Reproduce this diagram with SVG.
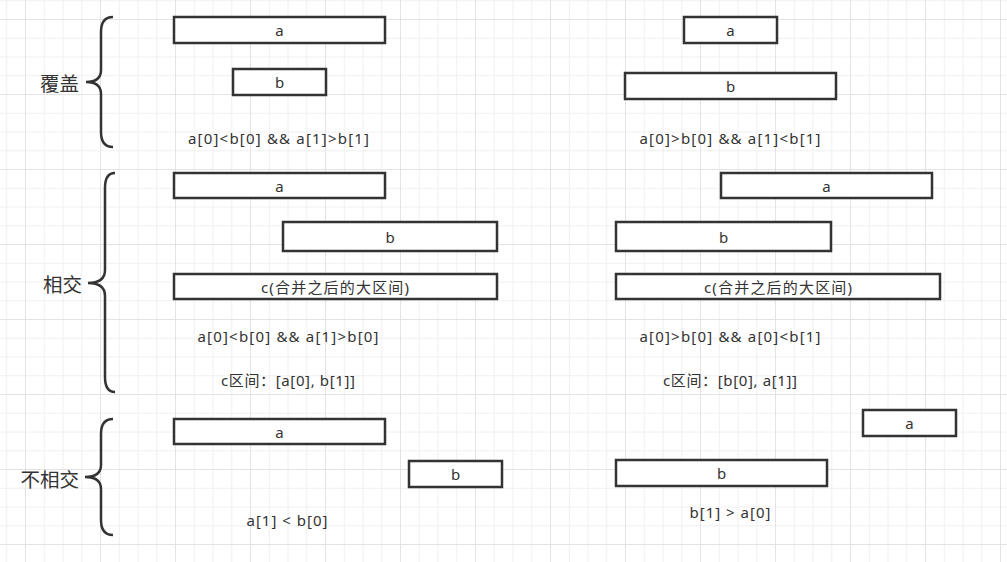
<svg xmlns="http://www.w3.org/2000/svg" width="1007" height="562" viewBox="0 0 1007 562">
<defs>
<pattern id="grid" patternUnits="userSpaceOnUse" x="25" y="19" width="75" height="75">
<path d="M19.25,0V75M38,0V75M56.75,0V75M0,19.25H75M0,38H75M0,56.75H75" stroke="#f0f0f0" stroke-width="1" fill="none"/>
<path d="M0.5,0V75M0,0.5H75" stroke="#e3e3e3" stroke-width="1" fill="none"/>
</pattern>
</defs>
<style>
.box{fill:#ffffff;stroke:#333333;stroke-width:2.5}
.brace{fill:none;stroke:#333333;stroke-width:2.5}
text{font-family:"Noto Sans","Noto Sans CJK SC",sans-serif;fill:#333333;font-size:15px;text-anchor:middle;dominant-baseline:central}
.lbl{font-family:"Noto Sans CJK SC",sans-serif;font-size:19.5px;text-anchor:end}
</style>
<rect width="1007" height="562" fill="#ffffff"/>
<rect width="1007" height="562" fill="url(#grid)"/>

<g id="connectors">
<path class="brace" d="M113,17 Q101,17 101,32 L101,70 Q101,82 86,82 Q101,82 101,94 L101,132 Q101,147 113,147"/>
<path class="brace" d="M115,173 Q105,173 105,188 L105,270 Q105,283 88,283 Q105,283 105,296 L105,377 Q105,392 115,392"/>
<path class="brace" d="M113,419 Q101,419 101,434 L101,465 Q101,477 85,477 Q101,477 101,489 L101,520 Q101,535 113,535"/>
</g>

<g id="label-cover"><text class="lbl" x="79" y="82">覆盖</text></g>
<g id="label-intersect"><text class="lbl" x="82" y="283">相交</text></g>
<g id="label-disjoint"><text class="lbl" x="79" y="478">不相交</text></g>

<g id="r1-left-a"><rect class="box" x="174" y="17" width="211" height="26"/><text x="279.5" y="30">a</text></g>
<g id="r1-left-b"><rect class="box" x="233" y="69" width="93" height="26"/><text x="279.5" y="82">b</text></g>
<g id="r1-left-cond"><text x="278.5" y="138" textLength="181" lengthAdjust="spacing">a[0]&lt;b[0] &amp;&amp; a[1]&gt;b[1]</text></g>

<g id="r1-right-a"><rect class="box" x="684" y="17" width="93" height="26"/><text x="730.5" y="30">a</text></g>
<g id="r1-right-b"><rect class="box" x="625" y="73" width="211" height="26"/><text x="730.5" y="86">b</text></g>
<g id="r1-right-cond"><text x="730" y="138" textLength="181" lengthAdjust="spacing">a[0]&gt;b[0] &amp;&amp; a[1]&lt;b[1]</text></g>

<g id="r2-left-a"><rect class="box" x="174" y="173" width="211" height="25"/><text x="279.5" y="186">a</text></g>
<g id="r2-left-b"><rect class="box" x="283" y="222" width="214" height="29"/><text x="390" y="237">b</text></g>
<g id="r2-left-c"><rect class="box" x="174" y="274" width="323" height="25"/><text x="335" y="287" textLength="148" lengthAdjust="spacing">c(合并之后的大区间)</text></g>
<g id="r2-left-cond"><text x="288" y="336" textLength="181" lengthAdjust="spacing">a[0]&lt;b[0] &amp;&amp; a[1]&gt;b[0]</text></g>
<g id="r2-left-range"><text x="288" y="380" textLength="134" lengthAdjust="spacing">c区间：[a[0], b[1]]</text></g>

<g id="r2-right-a"><rect class="box" x="721" y="173" width="211" height="25"/><text x="826.5" y="186">a</text></g>
<g id="r2-right-b"><rect class="box" x="616" y="222" width="215" height="29"/><text x="723.5" y="237">b</text></g>
<g id="r2-right-c"><rect class="box" x="616" y="274" width="324" height="25"/><text x="778" y="287" textLength="148" lengthAdjust="spacing">c(合并之后的大区间)</text></g>
<g id="r2-right-cond"><text x="730" y="336" textLength="181" lengthAdjust="spacing">a[0]&gt;b[0] &amp;&amp; a[0]&lt;b[1]</text></g>
<g id="r2-right-range"><text x="730" y="380" textLength="134" lengthAdjust="spacing">c区间：[b[0], a[1]]</text></g>

<g id="r3-left-a"><rect class="box" x="174" y="419" width="211" height="25"/><text x="279.5" y="432">a</text></g>
<g id="r3-left-b"><rect class="box" x="409" y="461" width="93" height="26"/><text x="455.5" y="474">b</text></g>
<g id="r3-left-cond"><text x="287" y="520" textLength="81" lengthAdjust="spacing">a[1] &lt; b[0]</text></g>

<g id="r3-right-a"><rect class="box" x="863" y="410" width="93" height="26"/><text x="909.5" y="423">a</text></g>
<g id="r3-right-b"><rect class="box" x="616" y="460" width="211" height="26"/><text x="721.5" y="473">b</text></g>
<g id="r3-right-cond"><text x="730" y="512" textLength="81" lengthAdjust="spacing">b[1] &gt; a[0]</text></g>
</svg>
